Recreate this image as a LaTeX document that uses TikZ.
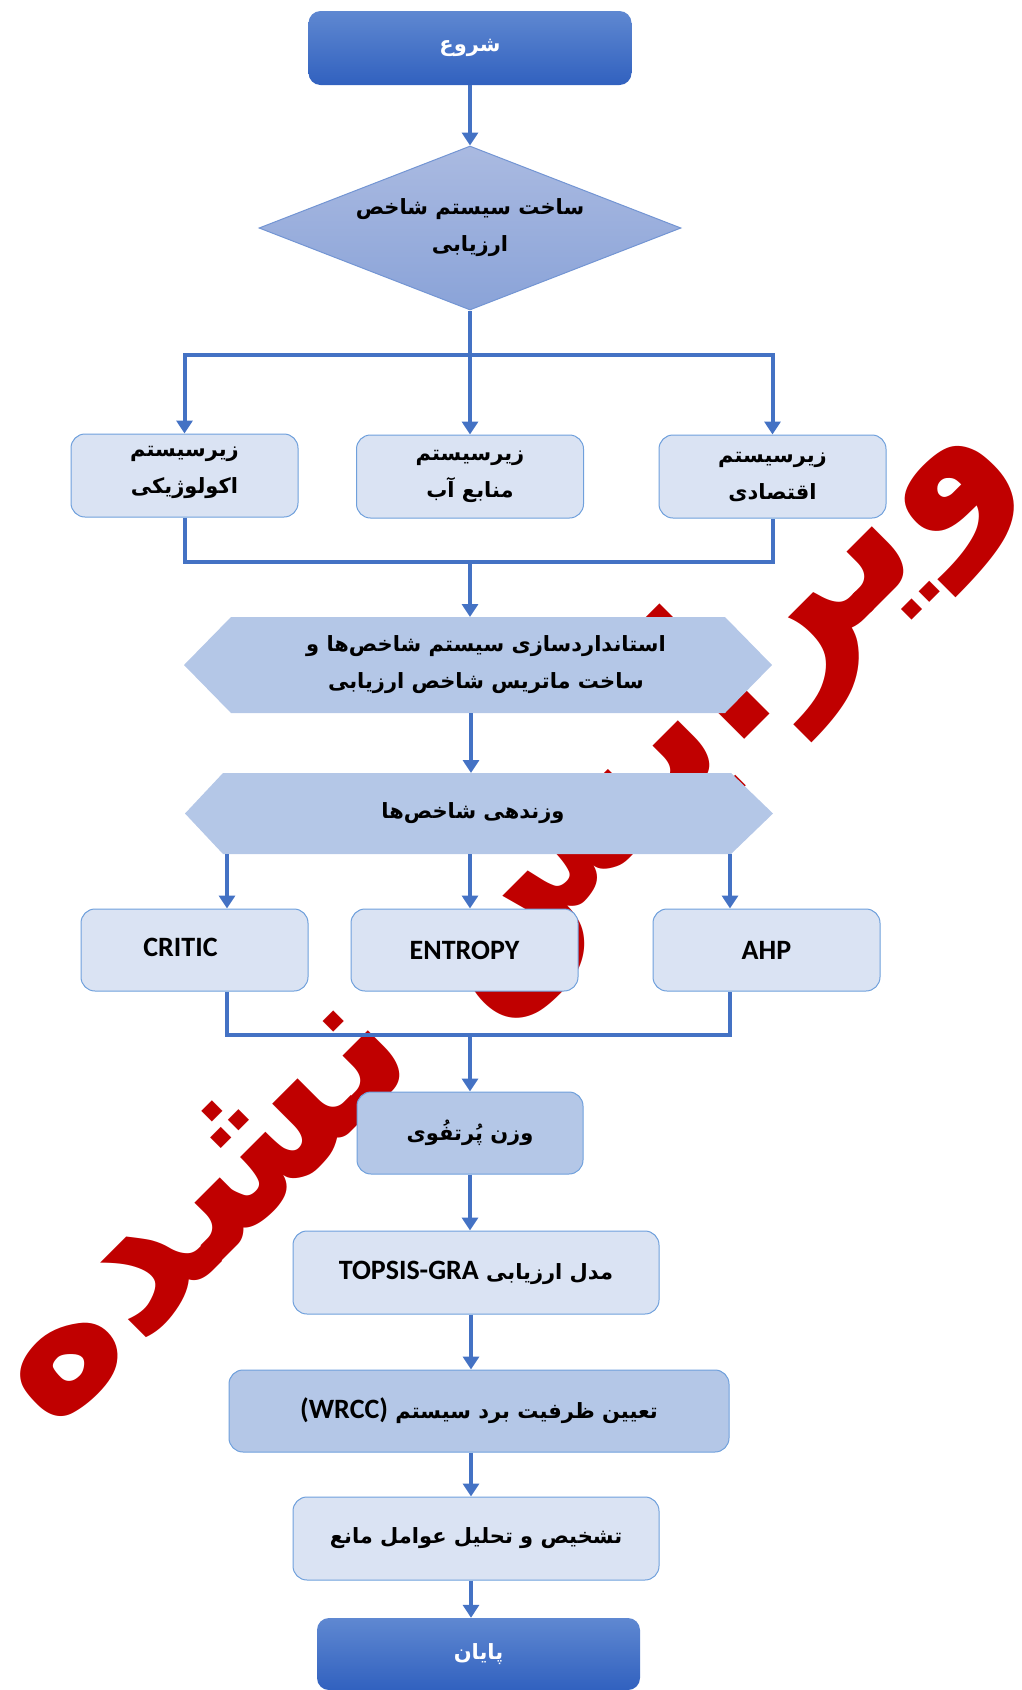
\documentclass[tikz,border=0pt]{standalone}
\usepackage{fontspec}
\setmainfont{Carlito}
\newfontfamily\fafont[Script=Arabic]{DejaVu Sans}
\newfontfamily\latfont{Carlito}
\TeXXeTstate=1
\usetikzlibrary{arrows.meta,shapes.geometric}
\definecolor{arrowc}{HTML}{4472C4}
\definecolor{lightfill}{HTML}{DAE3F3}
\definecolor{darkfill}{HTML}{B4C7E7}
\definecolor{boxline}{HTML}{6FA0DC}
\definecolor{wmred}{HTML}{C00000}
\definecolor{termtop}{HTML}{5F88D1}
\definecolor{termbot}{HTML}{3161BF}
\definecolor{diatop}{HTML}{AABAE1}
\definecolor{diabot}{HTML}{8AA3D8}
\newcommand{\rtl}[1]{\beginR#1\endR}
\newcommand{\lat}[1]{\beginL{\latfont\bfseries\fontsize{28}{34}\selectfont #1}\endL}
\begin{document}
\begin{tikzpicture}[x=1pt,y=1pt,
  conn/.style={draw=arrowc,line width=4pt},
  arr/.style={conn,-{Triangle[width=16pt,length=13pt]}},
  fa/.style={font=\fafont\bfseries\fontsize{21}{37}\selectfont,align=center,text=black},
  box/.style={rectangle,rounded corners=14pt,draw=boxline,line width=1pt,inner sep=0pt,fa},
  lbox/.style={box,fill=lightfill},
  dbox/.style={box,fill=darkfill},
  term/.style={rectangle,rounded corners=12pt,draw=none,top color=termtop,bottom color=termbot,
     inner sep=0pt,minimum width=323pt,fa,text=white},
  latin/.style={font=\latfont\bfseries\fontsize{28}{34}\selectfont,text=black}]
\useasboundingbox (0,0) rectangle (1022,-1690);
% watermark
\node[text=wmred,rotate=45,inner sep=0pt,font=\fafont\bfseries\fontsize{205}{205}\selectfont] (wm) at (497,-912) {\rtl{ویرایش نشده}};
% start
\node[term,minimum height=74pt] (start) at (470,-48) {\rtl{شروع}};
% diamond
\node[diamond,draw=arrowc!75!white,line width=1pt,top color=diatop,bottom color=diabot,
  minimum width=422pt,minimum height=164pt,aspect=2.57,inner sep=0pt,fa] (dia) at (470,-228)
  {\rtl{ساخت سیستم شاخص}\\\rtl{ارزیابی}};
% row 1
\node[lbox,minimum width=227pt,minimum height=83pt,
  label={[fa,yshift=3pt]center:{\rtl{زیرسیستم}\\\rtl{اکولوژیکی}}}] (eco) at (184.5,-475.5) {};
\node[lbox,minimum width=227pt,minimum height=83pt] (water) at (470,-476.5) {\rtl{زیرسیستم}\\\rtl{منابع آب}};
\node[lbox,minimum width=227pt,minimum height=83pt] (econ) at (772.5,-476.5) {\rtl{زیرسیستم}\\\rtl{اقتصادی}};
\coordinate (br1) at (470,-355);
\draw[arr] (start.south) -- (dia.north);
\draw[arr] (dia.south) -- (br1) -| (eco.north);
\draw[arr] (br1) -| (econ.north);
\draw[arr] (br1) -- (water.north);
% hexagon 1
\fill[darkfill] (184,-665) -- (231,-617) -- (725,-617) -- (772,-665) -- (725,-713) -- (231,-713) -- cycle;
\node[fa,inner sep=0pt] (hexA) at (486,-665) {\rtl{استانداردسازی سیستم شاخص^^^^200cها و}\\\rtl{ساخت ماتریس شاخص ارزیابی}};
\coordinate (m1) at (470,-562);
\coordinate (hexAtop) at (470,-617);
\coordinate (hexAbot) at (471,-713);
\draw[conn] (eco.south) |- (m1) -| (econ.south);
\draw[arr] (m1) -- (hexAtop);
% hexagon 2
\fill[darkfill] (185,-813.5) -- (223,-773) -- (731,-773) -- (773,-813.5) -- (731,-854) -- (223,-854) -- cycle;
\node[fa,inner sep=0pt] (hexB) at (473,-813.5) {\rtl{وزندهی شاخص^^^^200cها}};
\coordinate (hexBtop) at (471,-773);
\coordinate (hexBbot) at (470,-854);
\coordinate (ax) at (471,0);
\draw[arr] (hexAbot) -- (hexBtop);
% row 2
\node[lbox,minimum width=227pt,minimum height=82pt,
  label={[latin,xshift=-14pt,yshift=3pt]center:CRITIC}] (critic) at (194.5,-950) {};
\node[lbox,minimum width=227pt,minimum height=82pt,latin] (entropy) at (464.5,-950) {ENTROPY};
\node[lbox,minimum width=227pt,minimum height=82pt,latin] (ahp) at (766.5,-950) {AHP};
\coordinate (a1) at (227,0);
\coordinate (a2) at (470,0);
\coordinate (a3) at (730,0);
\draw[arr] (hexBbot -| a1) -- (critic.north -| a1);
\draw[arr] (hexBbot -| a2) -- (entropy.north -| a2);
\draw[arr] (hexBbot -| a3) -- (ahp.north -| a3);
\coordinate (m2) at (470,-1035);
\draw[conn] (critic.south -| a1) |- (m2) -| (ahp.south -| a3);
% lower chain
\node[dbox,minimum width=226pt,minimum height=82pt] (vazn) at (470,-1133) {\rtl{وزن پُرتفُوی}};
\draw[arr] (m2) -- (vazn.north);
\node[lbox,minimum width=366pt,minimum height=83pt] (topsis) at (476,-1272.5) {\rtl{مدل ارزیابی \lat{TOPSIS-GRA}}};
\node[dbox,minimum width=500pt,minimum height=82pt] (wrcc) at (479,-1411) {\rtl{تعیین ظرفیت برد سیستم \lat{(WRCC)}}};
\node[lbox,minimum width=366pt,minimum height=83pt] (tash) at (476,-1538.5) {\rtl{تشخیص و تحلیل عوامل مانع}};
\node[term,minimum height=72pt] (end) at (478.5,-1654) {\rtl{پایان}};
\draw[arr] (vazn.south) -- (vazn.south |- topsis.north);
\draw[arr] (ax |- topsis.south) -- (ax |- wrcc.north);
\draw[arr] (ax |- wrcc.south) -- (ax |- tash.north);
\draw[arr] (ax |- tash.south) -- (ax |- end.north);
\end{tikzpicture}
\end{document}
